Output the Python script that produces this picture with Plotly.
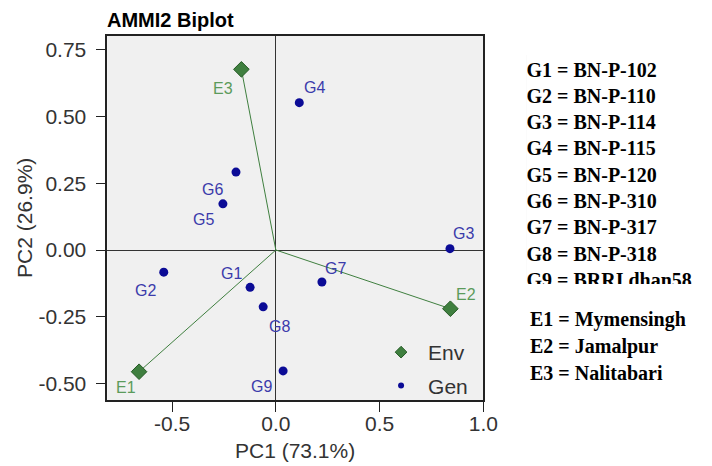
import plotly.graph_objects as go

# ---- AMMI2 biplot scores ----
gen_labels = ["G1", "G2", "G3", "G4", "G5", "G6", "G7", "G8", "G9"]
gen_pc1 = [-0.124, -0.540, 0.839, 0.113, -0.255, -0.192, 0.222, -0.061, 0.035]
gen_pc2 = [-0.140, -0.083, 0.005, 0.552, 0.173, 0.292, -0.120, -0.213, -0.453]

env_labels = ["E1", "E2", "E3"]
env_pc1 = [-0.659, 0.841, -0.166]
env_pc2 = [-0.456, -0.220, 0.677]

gen_names = ["BN-P-102", "BN-P-110", "BN-P-114", "BN-P-115", "BN-P-120",
             "BN-P-310", "BN-P-317", "BN-P-318", "BRRI dhan58"]
env_names = ["Mymensingh", "Jamalpur", "Nalitabari"]

x_ticks = [-0.5, 0.0, 0.5, 1.0]
x_ticktext = ["-0.5", "0.0", "0.5", "1.0"]
y_ticks = [0.75, 0.50, 0.25, 0.00, -0.25, -0.50]
y_ticktext = ["0.75", "0.50", "0.25", "0.00", "-0.25", "-0.50"]

x_title = "PC1 (73.1%)"
y_title = "PC2 (26.9%)"
chart_title = "AMMI2 Biplot"

# ---- styling ----
W, H = 712, 466
W_VIEW = 695          # usable page width next to the scrollbar gutter
GEN_COLOR = "#0b0b96"
GEN_TEXT = "#3b3bab"
ENV_COLOR = "#3f7f3f"
ENV_EDGE = "#245a24"
ENV_TEXT = "#5b9b5b"
AXIS_TEXT = "#333333"
SANS = "Liberation Sans, Arial, sans-serif"
SERIF = "Liberation Serif, Times New Roman, serif"
KEY_SIZE = 20

# label placement around each point (pixels: right, up)
label_shift = {
    "G1": (-19, 14), "G2": (-18, -18), "G3": (14, 15), "G4": (15, 15),
    "G5": (-19, -16), "G6": (-23, -17), "G7": (14, 14), "G8": (16, -20),
    "G9": (-22, -16), "E1": (-13, -16), "E2": (16, 14), "E3": (-18, -19),
}

# plot frame in pixels
px_left, px_right, px_top, px_bottom = 107, 482, 35.7, 400


def fx(px):
    return min(px / W_VIEW, 1.0)


def fy(py):
    return 1 - py / H


fig = go.Figure()

# environment vectors from the origin
vx, vy = [], []
for ex, ey in zip(env_pc1, env_pc2):
    vx += [0, ex, None]
    vy += [0, ey, None]
fig.add_trace(go.Scatter(x=vx, y=vy, mode="lines",
                         line=dict(color=ENV_COLOR, width=1),
                         showlegend=False, hoverinfo="skip"))

fig.add_trace(go.Scatter(x=env_pc1, y=env_pc2, mode="markers",
                         marker=dict(symbol="diamond", size=12, color=ENV_COLOR,
                                     line=dict(color=ENV_EDGE, width=1)),
                         showlegend=False))
fig.add_trace(go.Scatter(x=gen_pc1, y=gen_pc2, mode="markers",
                         marker=dict(symbol="circle", size=9, color=GEN_COLOR),
                         showlegend=False))

# legend entries
fig.add_trace(go.Scatter(x=[None], y=[None], mode="markers", name="Env",
                         legendgroup="env",
                         marker=dict(symbol="diamond", size=9, color=ENV_COLOR,
                                     line=dict(color=ENV_EDGE, width=1))))
fig.add_trace(go.Scatter(x=[None], y=[None], mode="markers", name="Gen",
                         legendgroup="gen",
                         marker=dict(symbol="circle", size=6, color=GEN_COLOR)))

# point labels
for lab, x, y in zip(gen_labels, gen_pc1, gen_pc2):
    dx, dy = label_shift[lab]
    fig.add_annotation(x=x, y=y, xref="x", yref="y", text=lab, showarrow=False,
                       xshift=dx, yshift=dy, xanchor="center", yanchor="middle",
                       font=dict(family=SANS, size=16, color=GEN_TEXT))
for lab, x, y in zip(env_labels, env_pc1, env_pc2):
    dx, dy = label_shift[lab]
    fig.add_annotation(x=x, y=y, xref="x", yref="y", text=lab, showarrow=False,
                       xshift=dx, yshift=dy, xanchor="center", yanchor="middle",
                       font=dict(family=SANS, size=16, color=ENV_TEXT))

# genotype key, clipped at the bottom of its panel
key_left, key_top, key_clip = 525, 55, 284
g_rows = [71.5 + 26.3 * i for i in range(len(gen_labels))]
fig.add_trace(go.Scatter(
    x=[0] * len(gen_labels), y=g_rows, mode="text",
    text=[f"{g} = {n}" for g, n in zip(gen_labels, gen_names)],
    textposition="middle right",
    textfont=dict(family=SERIF, size=KEY_SIZE, color="black", weight="bold"),
    xaxis="x2", yaxis="y2", showlegend=False, hoverinfo="skip", cliponaxis=True))
fig.add_shape(type="rect", xref="x2 domain", yref="y2 domain",
              x0=0, x1=1, y0=0, y1=1, layer="below",
              fillcolor="white", line=dict(width=0))

# environment key
e_rows = [319.7, 346.3, 372.6]
for (e, n), yy in zip(zip(env_labels, env_names), e_rows):
    fig.add_annotation(x=fx(key_left + 1), y=fy(yy), xref="paper", yref="paper",
                       text=f"<b>{e} = {n}</b>", showarrow=False,
                       xanchor="left", yanchor="middle",
                       font=dict(family=SERIF, size=KEY_SIZE, color="black"))

# title and axis titles
fig.add_annotation(x=fx(px_left - 2), y=fy(20), xref="paper", yref="paper",
                   text=f"<b>{chart_title}</b>", showarrow=False,
                   xanchor="left", yanchor="middle",
                   font=dict(family=SANS, size=20, color="black"))
fig.add_annotation(x=fx((px_left + px_right) / 2), y=fy(450),
                   xref="paper", yref="paper", text=x_title, showarrow=False,
                   xanchor="center", yanchor="middle",
                   font=dict(family=SANS, size=21, color=AXIS_TEXT))
fig.add_annotation(x=fx(25), y=fy((px_top + px_bottom) / 2),
                   xref="paper", yref="paper", text=y_title, showarrow=False,
                   textangle=-90, xanchor="center", yanchor="middle",
                   font=dict(family=SANS, size=21, color=AXIS_TEXT))

axis_common = dict(
    showgrid=False, zeroline=True, zerolinecolor="#333333", zerolinewidth=1,
    showline=True, linecolor="#222222", linewidth=1.6, mirror=True,
    ticks="outside", ticklen=10, tickwidth=1.4, tickcolor="#222222",
    tickfont=dict(family=SANS, size=21, color=AXIS_TEXT),
)

fig.update_layout(
    width=W, height=H,
    margin=dict(l=0, r=0, t=0, b=0),
    paper_bgcolor="white", plot_bgcolor="#f0f0f0",
    xaxis=dict(domain=[fx(px_left), fx(px_right)], range=[-0.812, 1.0],
               tickvals=x_ticks, ticktext=x_ticktext, ticklabelstandoff=-6,
               **axis_common),
    yaxis=dict(domain=[fy(px_bottom), fy(px_top)], range=[-0.562, 0.803],
               tickvals=y_ticks, ticktext=y_ticktext, ticklabelstandoff=5,
               **axis_common),
    xaxis2=dict(domain=[fx(key_left), 1.0], range=[0, 1], visible=False,
                anchor="y2", fixedrange=True),
    yaxis2=dict(domain=[fy(key_clip), fy(key_top)],
                range=[key_clip, key_top], visible=False,
                anchor="x2", fixedrange=True),
    legend=dict(x=fx(373), y=fy(332), xanchor="left", yanchor="top",
                bgcolor="rgba(0,0,0,0)", tracegroupgap=3, itemwidth=44,
                font=dict(family=SANS, size=21, color=AXIS_TEXT)),
    showlegend=True,
)

fig.write_html("out.html")
